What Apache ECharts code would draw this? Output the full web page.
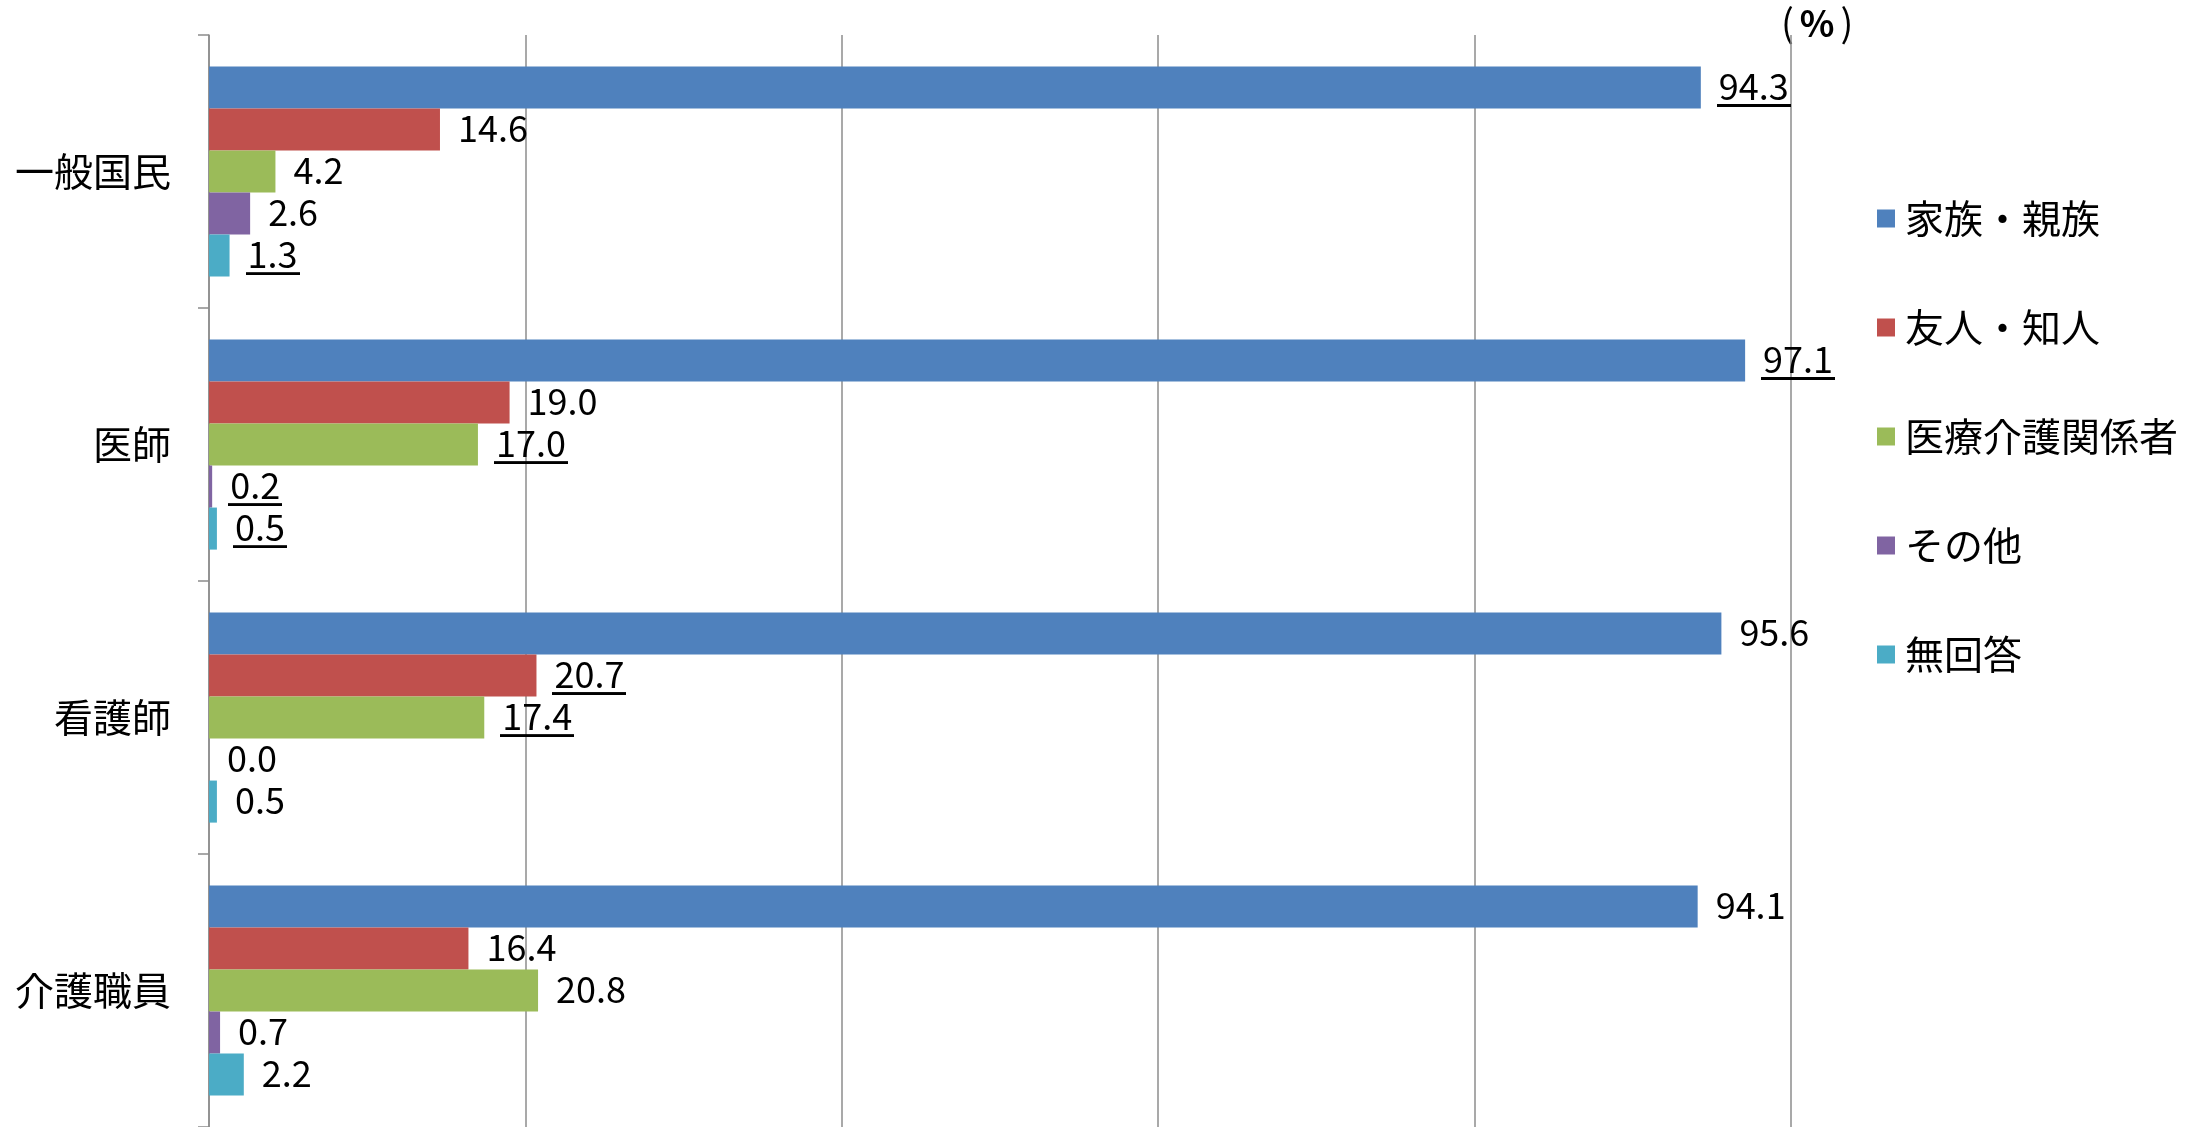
<!DOCTYPE html>
<html><head><meta charset="utf-8">
<script src="https://cdn.jsdelivr.net/npm/echarts@6/dist/echarts.min.js"></script>
<style>html,body{margin:0;padding:0;background:#fff}#c{width:2197px;height:1127px}</style>
</head><body><div id="c"></div>
<script>
// ---- data ----
const categories = ['一般国民', '医師', '看護師', '介護職員'];
const seriesNames = ['家族・親族', '友人・知人', '医療介護関係者', 'その他', '無回答'];
const familyValues   = [94.3, 97.1, 95.6, 94.1];
const friendValues   = [14.6, 19.0, 20.7, 16.4];
const medicalValues  = [4.2, 17.0, 17.4, 20.8];
const otherValues    = [2.6, 0.2, 0.0, 0.7];
const noAnswerValues = [1.3, 0.5, 0.5, 2.2];
// underlined labels (as marked in the source)
const familyUnderline   = [true, true, false, false];
const friendUnderline   = [false, false, true, false];
const medicalUnderline  = [false, true, true, false];
const otherUnderline    = [false, true, false, false];
const noAnswerUnderline = [true, true, false, false];
const axisMax = 100;
const axisInterval = 20;
const unitLabel = '%';

// ---- styling ----
const colors = ['#4F81BD', '#C0504D', '#9BBB59', '#8064A2', '#4BACC6'];
const FONT = '"Noto Sans CJK JP", "Noto Sans", sans-serif';
const GRID = '#8c8c8c';

const uc = document.createElement('canvas');
uc.width = 8; uc.height = 40;
const g = uc.getContext('2d');
g.fillStyle = '#000';
g.fillRect(0, 37, 8, 3);

const valueSets = [familyValues, friendValues, medicalValues, otherValues, noAnswerValues];
const underlineSets = [familyUnderline, friendUnderline, medicalUnderline, otherUnderline, noAnswerUnderline];

const series = seriesNames.map((name, i) => ({
  name,
  type: 'bar',
  data: valueSets[i],
  barGap: '0%',
  barCategoryGap: '23%',
  itemStyle: { color: colors[i] },
  label: {
    show: true,
    position: 'right',
    distance: 16,
    formatter: p => (underlineSets[i][p.dataIndex] ? '{u|' : '{n|') + Number(p.value).toFixed(1) + '}',
    rich: {
      n: { fontFamily: FONT, fontSize: 36, color: '#000', lineHeight: 36, padding: [0, 2, 3, 2] },
      u: { fontFamily: FONT, fontSize: 36, color: '#000', lineHeight: 36, padding: [0, 2, 3, 2],
           backgroundColor: { image: uc } }
    }
  }
}));

const chart = echarts.init(document.getElementById('c'), null, { renderer: 'canvas' });
chart.setOption({
  animation: false,
  backgroundColor: '#fff',
  grid: { left: 209, right: 406, top: 35, bottom: -3, containLabel: false },
  xAxis: {
    type: 'value', min: 0, max: axisMax, interval: axisInterval,
    axisLabel: { show: false }, axisLine: { show: false }, axisTick: { show: false },
    splitLine: { show: true, lineStyle: { color: GRID, width: 1.5 } }
  },
  yAxis: {
    type: 'category', data: categories, inverse: true,
    axisLine: { show: true, lineStyle: { color: GRID, width: 1.5 } },
    axisTick: { show: true, length: 11, lineStyle: { color: GRID, width: 1.5 } },
    axisLabel: { fontFamily: FONT, fontSize: 39, color: '#000', margin: 38 }
  },
  legend: {
    orient: 'vertical', left: 1872, top: 194,
    icon: 'rect', itemWidth: 18, itemHeight: 18, itemGap: 70,
    textStyle: { fontFamily: FONT, fontSize: 39, color: '#000', lineHeight: 38, padding: [0, 0, 0, 5] },
    data: seriesNames
  },
  graphic: [{
    type: 'text', left: 1781, top: 4,
    style: {
      text: '{p|(}{b|' + unitLabel + '}{p|)}',
      rich: {
        p: { fontFamily: FONT, fontSize: 38, fill: '#000', padding: [0, 6, 0, 6] },
        b: { fontFamily: FONT, fontSize: 36, fontWeight: 'bold', fill: '#000' }
      }
    }
  }],
  series
});
</script></body></html>
